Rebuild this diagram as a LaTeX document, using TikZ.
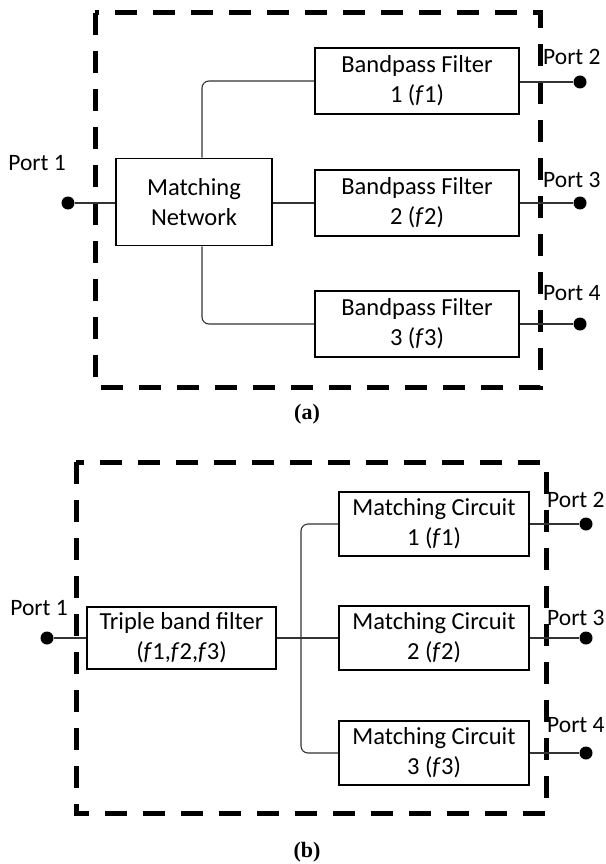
\documentclass[tikz,border=0pt]{standalone}
\usepackage{fontspec}
\setmainfont{Carlito}
\newfontfamily\capfont{Liberation Serif}
\usetikzlibrary{positioning}
\tikzset{
  blockbox/.style={draw, line width=1.6pt, align=center, minimum width=#1, inner sep=0pt},
  wire/.style={line width=1.1pt, black!80},
  enclosure/.style={line width=5pt, dash pattern=on 22pt off 16pt},
  portdot/.style={circle, fill=black, inner sep=0pt, minimum size=13pt},
  portlabel/.style={inner sep=1pt, font=\fontsize{23.5}{28}\selectfont},
  caplabel/.style={font=\capfont\bfseries\fontsize{22}{26}\selectfont}
}

\begin{document}
\begin{tikzpicture}[x=1pt, y=-1pt, font=\fontsize{24.5}{30}\selectfont]
    \useasboundingbox (0,0) rectangle (605,864);
    % (a) filter bank behind a matching network
    \draw[enclosure] (95,13) rectangle (540,387);
    \node[blockbox=156pt, minimum height=87pt] (mn) at (194,202) {Matching\\Network};
    \node[blockbox=204pt, minimum height=66pt] (bpfa) at (417,81) {Bandpass Filter\\1 (\textit{f}1)};
    \node[blockbox=204pt, minimum height=66pt] (bpfb) at (417,203) {Bandpass Filter\\2 (\textit{f}2)};
    \node[blockbox=204pt, minimum height=66pt] (bpfc) at (417,324) {Bandpass Filter\\3 (\textit{f}3)};
    \node[portdot] (pa1) at (68,203) {};
    \node[portdot] (pa2) at (580,82) {};
    \node[portdot] (pa3) at (580,203) {};
    \node[portdot] (pa4) at (580,324) {};
    \node[portlabel] (la1) at (37,163) {Port 1};
    \node[portlabel, anchor=west] (la2) at (542,57) {Port 2};
    \node[portlabel, anchor=west] (la3) at (542,180) {Port 3};
    \node[portlabel, anchor=west] (la4) at (542,293) {Port 4};
    \draw[wire] (pa1) -- (pa1 -| mn.west);
    \draw[wire, rounded corners=7pt] ([xshift=8pt]mn.north) |- (bpfa.west);
    \draw[wire] (mn.east |- bpfb) -- (bpfb.west);
    \draw[wire, rounded corners=7pt] ([xshift=8pt]mn.south) |- (bpfc.west);
    \draw[wire] (bpfa.east |- pa2) -- (pa2);
    \draw[wire] (bpfb.east) -- (pa3);
    \draw[wire] (bpfc.east) -- (pa4);
    \node[caplabel] (capa) at (307,414) {(a)};

    % (b) triple band filter ahead of matching circuits
    \draw[enclosure] (76,462) rectangle (546,813);
    \node[blockbox=189pt, minimum height=62pt] (tbf) at (181.5,638) {Triple band filter\\(\textit{f}1,\textit{f}2,\textit{f}3)};
    \node[blockbox=190pt, minimum height=64pt] (mca) at (434,524) {Matching Circuit\\1 (\textit{f}1)};
    \node[blockbox=190pt, minimum height=64pt] (mcb) at (434,638) {Matching Circuit\\2 (\textit{f}2)};
    \node[blockbox=190pt, minimum height=64pt] (mcc) at (434,753) {Matching Circuit\\3 (\textit{f}3)};
    \coordinate (split) at (301,638);
    \node[portdot] (pb1) at (47,638) {};
    \node[portdot] (pb2) at (586,524) {};
    \node[portdot] (pb3) at (586,638) {};
    \node[portdot] (pb4) at (586,753) {};
    \node[portlabel] (lb1) at (39,608) {Port 1};
    \node[portlabel, anchor=west] (lb2) at (546,500) {Port 2};
    \node[portlabel, anchor=west] (lb3) at (546,618) {Port 3};
    \node[portlabel, anchor=west] (lb4) at (546,725) {Port 4};
    \draw[wire] (pb1) -- (tbf.west);
    \draw[wire] (tbf.east) -- (mcb.west);
    \draw[wire, rounded corners=7pt] (mca.west) -| (split) |- (mcc.west);
    \draw[wire] (mca.east) -- (pb2);
    \draw[wire] (mcb.east) -- (pb3);
    \draw[wire] (mcc.east) -- (pb4);
    \node[caplabel] (capb) at (307,852) {(b)};
\end{tikzpicture}
\end{document}
